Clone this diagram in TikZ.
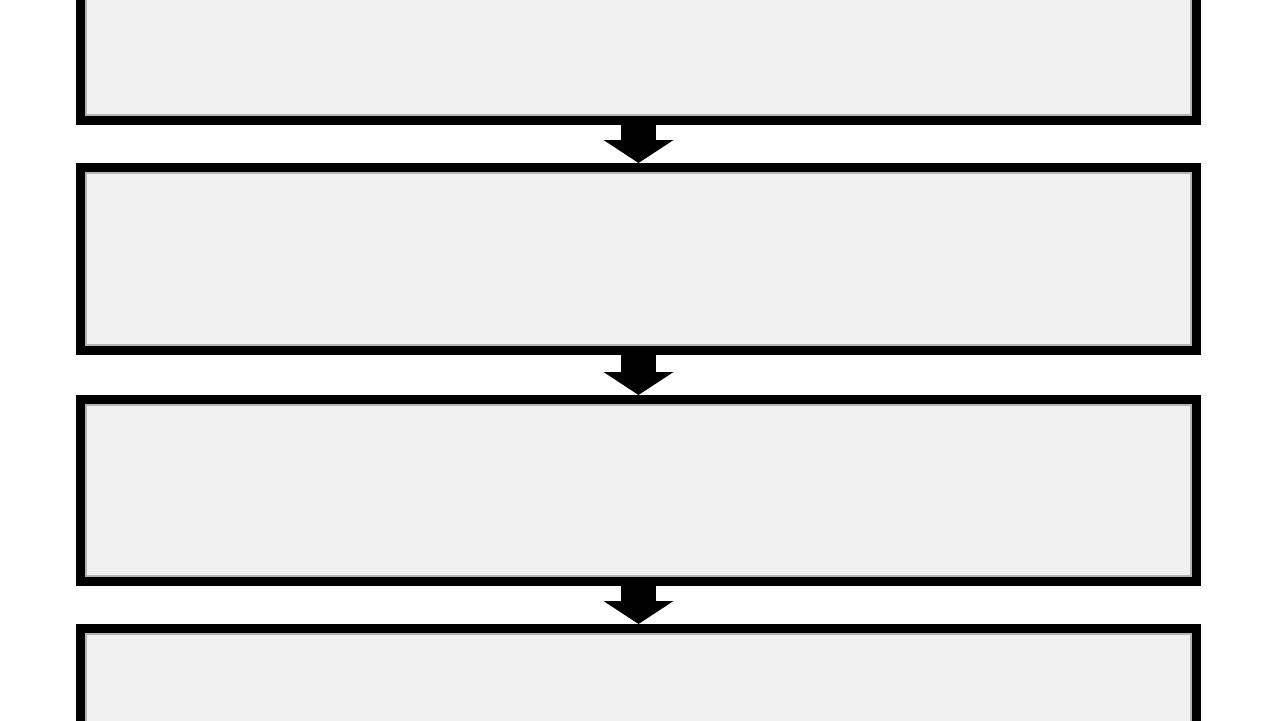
\documentclass[tikz,border=0pt]{standalone}
\usetikzlibrary{arrows.meta}
\definecolor{boxfill}{HTML}{F1F1F1}
\definecolor{boxrim}{HTML}{B4B4B4}
\begin{document}
\begin{tikzpicture}[x=1pt,y=-1pt,
    box/.style={draw=black,fill=boxfill,line width=9pt,inner sep=0pt,
      minimum width=1116pt,minimum height=183pt},
    rim/.style={draw=boxrim,line width=1.5pt},
    flow/.style={line width=35pt,-{Triangle[length=23pt,width=70pt,line width=0pt]}}]
      \useasboundingbox (0,0) rectangle (1279,720);
      \fill[white] (0,0) rectangle (1279,720);
      \draw
        (638.5,29) node[box] (1){}
        (638.5,259) node[box] (2){}
        (638.5,490.5) node[box,minimum height=182pt] (3){}
        (638.5,720) node[box] (4){};
      \begin{scope}
        \foreach \n in {1,2,3,4}
          \draw[rim] ([shift={(10pt,-10pt)}]\n.north west) rectangle ([shift={(-10pt,10pt)}]\n.south east);
      \end{scope}
      \begin{scope}[flow]
        \draw (1) to (2);
        \draw (2) to (3);
        \draw (3) to (4);
      \end{scope}
    \end{tikzpicture}
\end{document}
